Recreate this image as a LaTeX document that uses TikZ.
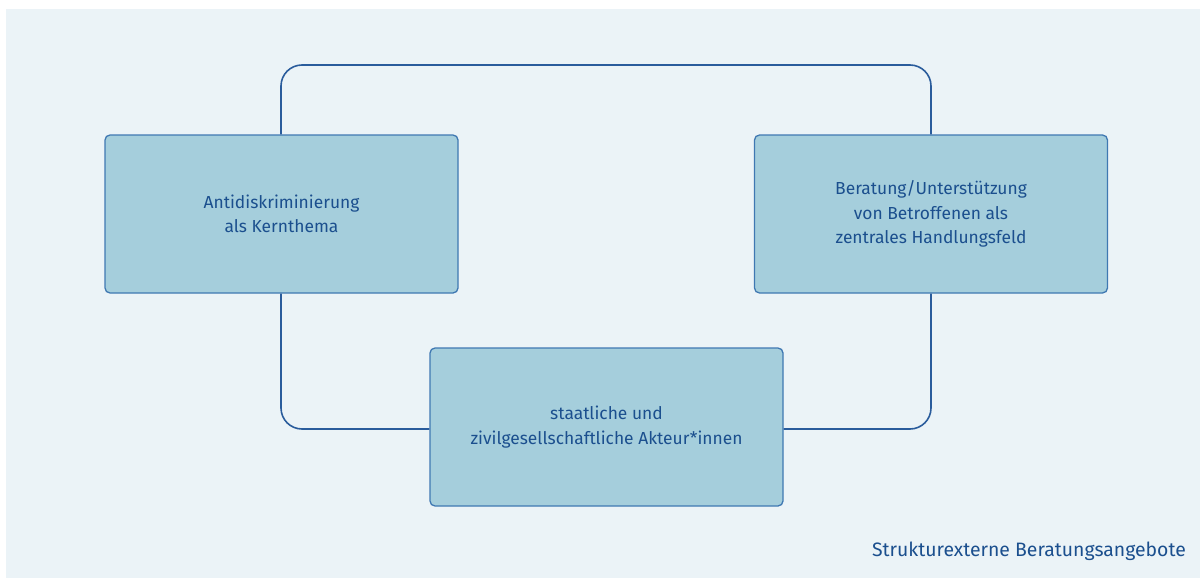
\documentclass[tikz,border=0pt]{standalone}
\usepackage{fontspec}
\setmainfont{Fira Sans}
\definecolor{panel}{HTML}{EBF3F7}
\definecolor{boxfill}{HTML}{A5CEDC}
\definecolor{boxline}{HTML}{3F78B2}
\definecolor{txt}{HTML}{1B4F8E}
\definecolor{conn}{HTML}{2A5C9C}
\tikzset{
  box/.style={draw=boxline, line width=1.3pt, fill=boxfill, rounded corners=5pt,
    minimum width=353pt, minimum height=158pt, align=center, text=txt,
    font=\fontsize{17.4}{24.5}\selectfont, inner sep=0pt},
  connline/.style={draw=conn, line width=1.6pt, rounded corners=21pt},
  caption/.style={text=txt, font=\fontsize{19.4}{22}\selectfont, anchor=base east, inner sep=0pt}
}
\begin{document}
\begin{tikzpicture}[x=1pt,y=-1pt]
\useasboundingbox (0,0) rectangle (1200,578);
\fill[panel] (6,9) rectangle (1200,578);
\coordinate (lx) at (281,0);
\coordinate (rx) at (931,0);
\coordinate (topy) at (0,65);
\coordinate (boty) at (0,429);
\node[box] (L) at (281.5,214) {Antidiskriminierung\\als Kernthema};
\node[box] (R) at (931,214) {Beratung/Unterstützung\\von Betroffenen als\\zentrales Handlungsfeld};
\node[box] (B) at (606.5,427) {staatliche und\\zivilgesellschaftliche Akteur*innen};
\draw[connline] (lx |- L.north) |- (rx |- topy) -- (rx |- R.north);
\draw[connline] (lx |- L.south) |- (B.west |- boty);
\draw[connline] (rx |- R.south) |- (B.east |- boty);
\node[caption] (C) at (1186,556) {Strukturexterne Beratungsangebote};
\end{tikzpicture}
\end{document}
